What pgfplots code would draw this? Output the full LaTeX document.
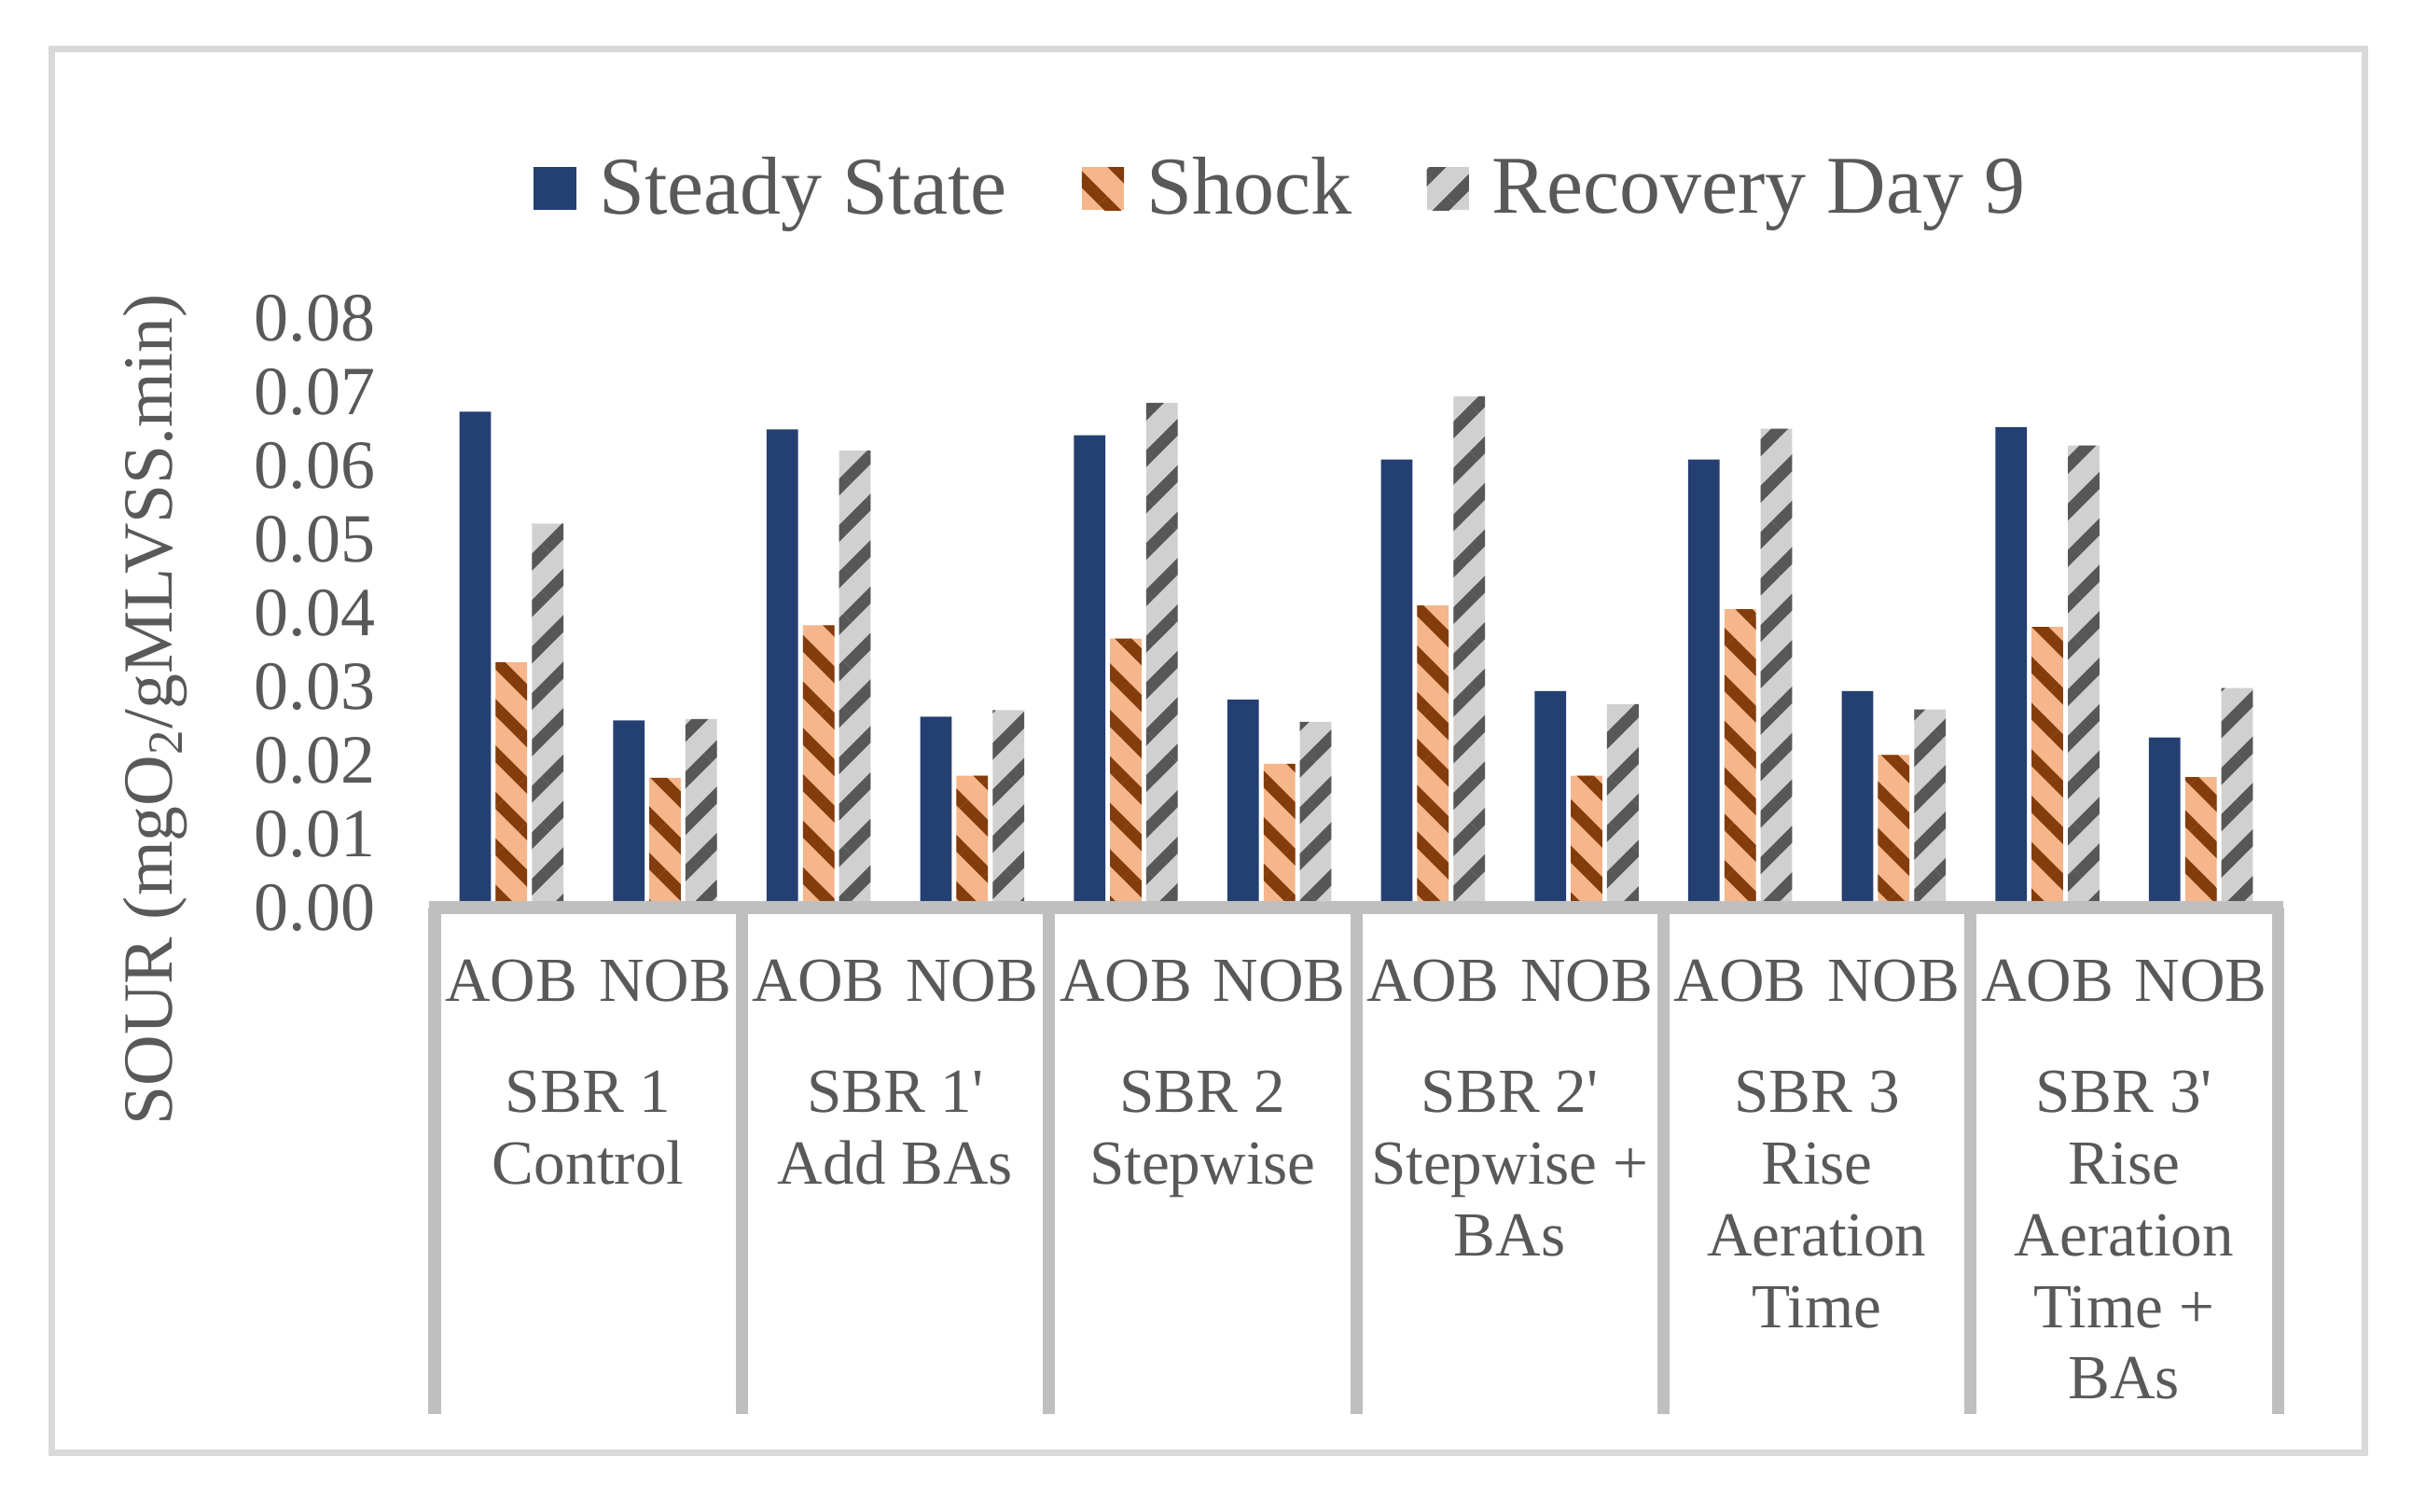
\documentclass[border=0pt]{standalone}
\usepackage{fontspec}
\setmainfont{Liberation Serif}
\usepackage{pgfplots}
\usepackage{pgfplotstable}
\pgfplotsset{compat=1.18}
\usetikzlibrary{patterns.meta}

\definecolor{txt}{HTML}{595959}
\definecolor{steady}{HTML}{243F72}
\definecolor{shockbg}{HTML}{F4B68A}
\definecolor{shockln}{HTML}{843C0C}
\definecolor{recbg}{HTML}{D0D0D0}
\definecolor{recln}{HTML}{575757}
\definecolor{axgrey}{HTML}{BFBFBF}
\definecolor{framegrey}{HTML}{D9D9D9}

% SOUR values, AOB/NOB for each reactor
\pgfplotstableread{
x steady shock recovery
0  0.0673 0.0333 0.0521
1  0.0254 0.0176 0.0256
2  0.0649 0.0383 0.0620
3  0.0259 0.0179 0.0268
4  0.0641 0.0365 0.0685
5  0.0282 0.0195 0.0252
6  0.0608 0.0410 0.0694
7  0.0294 0.0179 0.0276
8  0.0608 0.0405 0.0650
9  0.0294 0.0207 0.0269
10 0.0652 0.0381 0.0627
11 0.0231 0.0177 0.0298
}\sour

\pgfplotsset{
  lgimg/.style={legend image code/.code={%
    \path[##1] (0bp,-5.7bp) rectangle (11.3bp,5.7bp);
    \path (15.5bp,0bp);}},
}

\begin{document}
\begin{tikzpicture}
\begin{axis}[
    at={(116.5bp,162bp)}, anchor=south west,
    scale only axis, width=494bp, height=158bp,
    xmin=-0.5, xmax=11.5,
    ymin=0, ymax=0.08,
    clip=false,
    axis line style={draw=none},
    major tick length=0pt,
    xtick={0,...,11},
    xticklabels={AOB,NOB,AOB,NOB,AOB,NOB,AOB,NOB,AOB,NOB,AOB,NOB},
    xticklabel style={anchor=base, inner sep=0pt, yshift=-25bp,
        font=\fontsize{16.8bp}{20bp}\selectfont, text=txt},
    ytick={0,0.01,...,0.08},
    yticklabel style={anchor=east, inner sep=0pt, xshift=-15.75bp,
        font=\fontsize{18.5bp}{22bp}\selectfont, text=txt,
        /pgf/number format/.cd, fixed, fixed zerofill, precision=2,
        assume math mode=true},
    scaled y ticks=false,
    ylabel={SOUR (mgO\textsubscript{2}/gMLVSS.min)},
    ylabel style={at={(rel axis cs:-0.1518,0.3354)}, anchor=center,
        font=\fontsize{18.9bp}{22bp}\selectfont, text=txt},
    legend style={at={(0.4605,1.2196)}, anchor=center, draw=none, fill=none,
        legend columns=-1, font=\fontsize{22bp}{26bp}\selectfont, text=txt,
        /tikz/every even column/.append style={column sep=18bp}},
]
\addplot[ybar, bar width=0.205, bar shift=-0.236, fill=steady, draw=none, lgimg]
    table[x=x, y=steady] {\sour};
\addplot[ybar, bar width=0.205, bar shift=0, fill=shockbg, draw=none,
    postaction={pattern={Lines[angle=-45, distance=8.8bp, line width=3.2bp]}, pattern color=shockln},
    lgimg]
    table[x=x, y=shock] {\sour};
\addplot[ybar, bar width=0.205, bar shift=0.236, fill=recbg, draw=none,
    postaction={pattern={Lines[angle=45, distance=8.8bp, line width=3.2bp]}, pattern color=recln},
    lgimg]
    table[x=x, y=recovery] {\sour};
\legend{Steady State,Shock,Recovery Day 9}

% multi-level category box
\draw[axgrey, line width=3.5bp] (axis cs:-0.5,0) ++(-1.6bp,0bp) -- (axis cs:11.5,0) -- ++(1.6bp,0bp);
\pgfplotsinvokeforeach{-0.5,1.5,...,11.5}{
  \draw[axgrey, line width=3.25bp] (axis cs:#1,0) -- ++(0bp,-135.75bp);
}
\tikzset{grp/.style={anchor=north, align=center, inner sep=0pt, yshift=-42.2bp,
    font=\fontsize{16.8bp}{19.2bp}\selectfont, text=txt}}
\newcommand\st{\rule{0pt}{12.5bp}}
\node[grp] at (axis cs:0.5,0)  {\st SBR 1\\Control};
\node[grp] at (axis cs:2.5,0)  {\st SBR 1\textquotesingle\\Add BAs};
\node[grp] at (axis cs:4.5,0)  {\st SBR 2\\Stepwise};
\node[grp] at (axis cs:6.5,0)  {\st SBR 2\textquotesingle\\Stepwise +\\BAs};
\node[grp] at (axis cs:8.5,0)  {\st SBR 3\\Rise\\Aeration\\Time};
\node[grp] at (axis cs:10.5,0) {\st SBR 3\textquotesingle\\Rise\\Aeration\\Time +\\BAs};
\end{axis}
\draw[framegrey, line width=1.75bp] (13.75bp,15.75bp) rectangle (633.75bp,392bp);
\path (0,0) rectangle (646.5bp,405.25bp);
\end{tikzpicture}
\end{document}
